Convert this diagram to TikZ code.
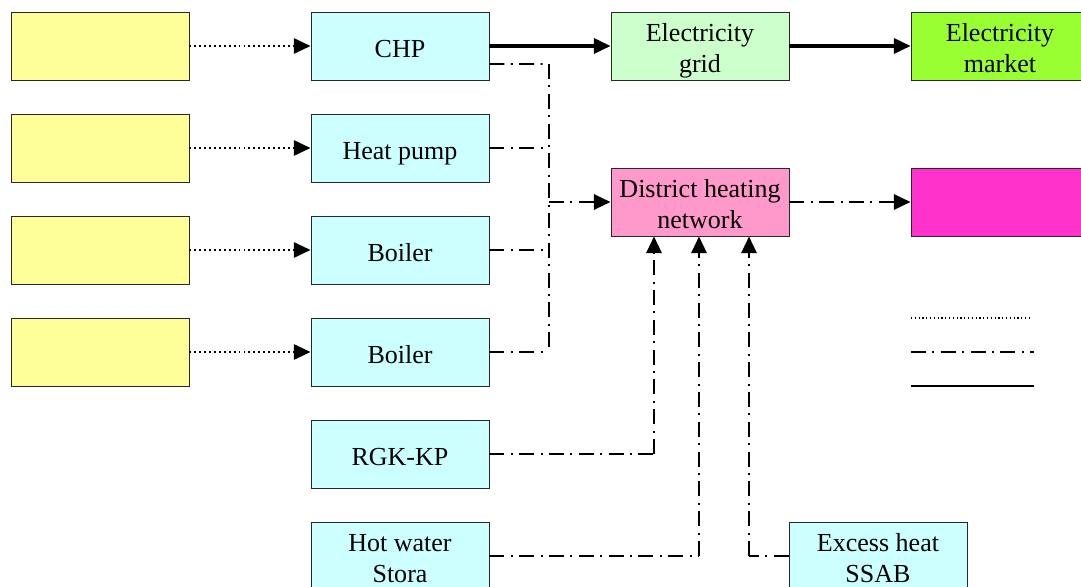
\documentclass[tikz,border=0pt]{standalone}
\usepackage{fontspec}
\setmainfont{Liberation Serif}
\definecolor{dhyellow}{RGB}{255,255,153}
\definecolor{dhcyan}{RGB}{204,255,255}
\definecolor{dhlightgreen}{RGB}{204,255,204}
\definecolor{dhgreen}{RGB}{153,255,51}
\definecolor{dhpink}{RGB}{255,153,204}
\definecolor{dhmagenta}{RGB}{255,51,204}
\definecolor{dhborder}{RGB}{40,40,40}
\usetikzlibrary{arrows.meta,positioning,calc}
\newcommand{\boxtext}[1]{\raisebox{-3.5pt}[\height][\depth]{\begin{tabular}{@{}c@{}}#1\end{tabular}}}

\begin{document}
\begin{tikzpicture}[
    dhbox/.style={draw=dhborder,line width=0.6pt,minimum width=4.45cm,minimum height=1.7cm,
                  inner sep=0pt,font=\fontsize{18.5}{22}\selectfont},
    tip/.style={-{Triangle[length=0.42cm,width=0.38cm]}},
    dotline/.style={line width=1.7pt,dash pattern=on 1.3pt off 2.2pt},
    feedline/.style={line width=1.1pt,dash pattern=on 10.6pt off 4.6pt on 1.4pt off 4.6pt},
    mainline/.style={line width=2pt,dash pattern=on 10.6pt off 4.6pt on 1.4pt off 4.6pt},
    solidline/.style={line width=2.2pt}]
  \useasboundingbox (0,0) rectangle (27.025,-14.675);

  % fuel boxes
  \node[dhbox,fill=dhyellow] (fuel1) at (2.5,-1.15) {};
  \node[dhbox,fill=dhyellow] (fuel2) at (2.5,-3.7) {};
  \node[dhbox,fill=dhyellow] (fuel3) at (2.5,-6.25) {};
  \node[dhbox,fill=dhyellow] (fuel4) at (2.5,-8.8) {};

  % production units
  \node[dhbox,fill=dhcyan] (chp)     at (10,-1.15) {\boxtext{CHP}};
  \node[dhbox,fill=dhcyan] (hpump)   at (10,-3.7) {\boxtext{Heat pump}};
  \node[dhbox,fill=dhcyan] (boilera) at (10,-6.25) {\boxtext{Boiler}};
  \node[dhbox,fill=dhcyan] (boilerb) at (10,-8.8) {\boxtext{Boiler}};
  \node[dhbox,fill=dhcyan] (rgk)     at (10,-11.35) {\boxtext{RGK-KP}};
  \node[dhbox,fill=dhcyan] (stora)   at (10,-13.9) {\boxtext{Hot water\\Stora}};
  \node[dhbox,fill=dhcyan] (ssab)    at (21.95,-13.9) {\boxtext{Excess heat\\SSAB}};

  % networks and markets
  \node[dhbox,fill=dhlightgreen] (grid)   at (17.5,-1.15) {\boxtext{Electricity\\grid}};
  \node[dhbox,fill=dhgreen]      (market) at (25,-1.15) {\boxtext{Electricity\\market}};
  \node[dhbox,fill=dhpink]       (dh)     at (17.5,-5.05) {\boxtext{District heating\\network}};
  \node[dhbox,fill=dhmagenta]    (heat)   at (25,-5.05) {};

  \coordinate (jtop) at (13.725,-1.6);
  \coordinate (jbot) at (13.725,-8.8);
  \coordinate (jdh)  at (13.725,-5.05);
  \coordinate (dhin1) at ([xshift=-1.15cm]dh.south);
  \coordinate (dhin2) at ([xshift=-0.025cm]dh.south);
  \coordinate (dhin3) at ([xshift=1.225cm]dh.south);

  % fuel supply
  \draw[dotline,tip] (fuel1.east) -- (chp.west);
  \draw[dotline,tip] (fuel2.east) -- (hpump.west);
  \draw[dotline,tip] (fuel3.east) -- (boilera.west);
  \draw[dotline,tip] (fuel4.east) -- (boilerb.west);

  % electricity
  \draw[solidline,tip] (chp.east) -- (grid.west);
  \draw[solidline,tip] (grid.east) -- (market.west);

  % heat collection
  \draw[feedline] ([yshift=-0.45cm]chp.east) -- (jtop);
  \draw[feedline] (hpump.east) -- (hpump.east -| jtop);
  \draw[feedline] (boilera.east) -- (boilera.east -| jtop);
  \draw[feedline] (boilerb.east) -- (jbot);
  \draw[mainline] (jtop) -- (jbot);
  \draw[mainline,tip] (jdh) -- (dh.west);
  \draw[mainline,tip] (dh.east) -- (heat.west);

  \draw[feedline] (rgk.east) -- (rgk.east -| dhin1);
  \draw[mainline,tip] (rgk.east -| dhin1) -- (dhin1);
  \draw[feedline] (stora.east) -- (stora.east -| dhin2);
  \draw[mainline,tip] (stora.east -| dhin2) -- (dhin2);
  \draw[feedline] (ssab.west) -- (ssab.west -| dhin3);
  \draw[mainline,tip] (ssab.west -| dhin3) -- (dhin3);

  % legend
  \coordinate (legdot) at (22.775,-7.95);
  \coordinate (legdash) at (22.775,-8.8);
  \coordinate (legsolid) at (22.775,-9.65);
  \draw[line width=1pt,dash pattern=on 0.9pt off 1.8pt] (legdot) -- ++(3,0);
  \draw[line width=1.5pt,dash pattern=on 10.6pt off 4.6pt on 1.4pt off 4.6pt] (legdash) -- ++(3.07,0);
  \draw[line width=1.5pt] (legsolid) -- ++(3.07,0);
\end{tikzpicture}
\end{document}
